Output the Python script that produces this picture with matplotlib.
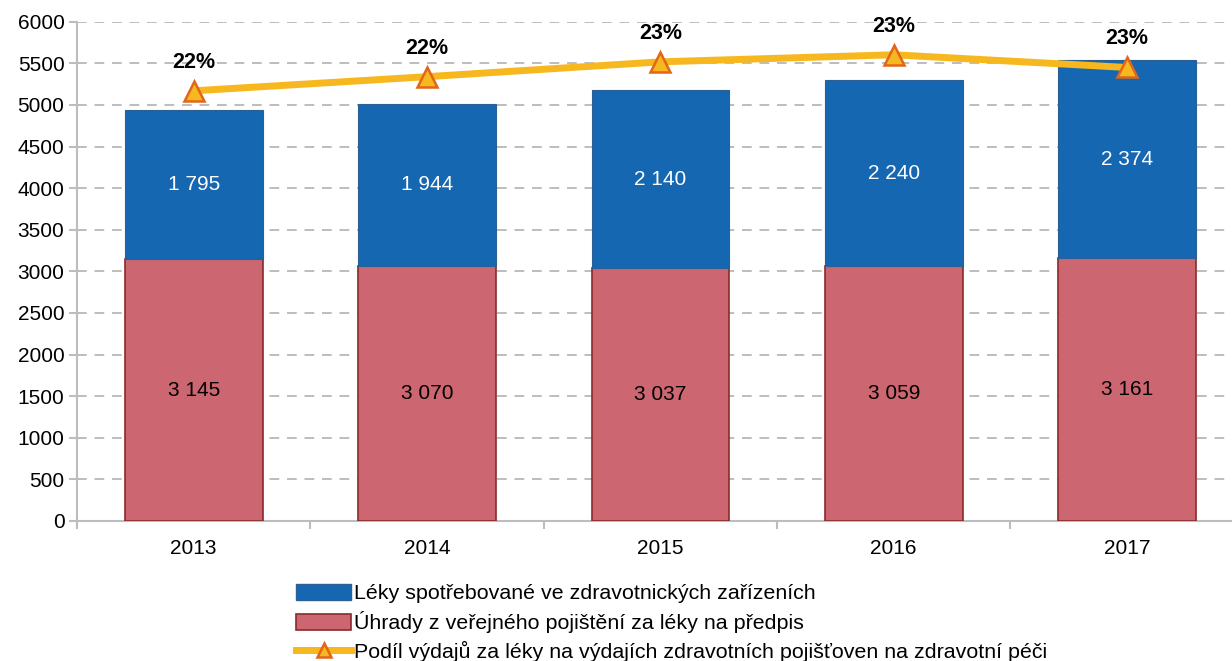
import numpy as np
import matplotlib.pyplot as plt
from matplotlib.patches import Patch
from matplotlib.lines import Line2D

plt.rcParams['font.family'] = ['Liberation Sans', 'DejaVu Sans']

# data
years = ['2013', '2014', '2015', '2016', '2017']
leky_predpis = [3145, 3070, 3037, 3059, 3161]       # red, bottom
leky_zarizeni = [1795, 1944, 2140, 2240, 2374]      # blue, top
podil_pct = [22.2, 22.4, 22.61, 22.71, 22.53]       # share, %

lbl_blue = 'Léky spotřebované ve zdravotnických zařízeních'
lbl_red = 'Úhrady z veřejného pojištění za léky na předpis'
lbl_line = 'Podíl výdajů za léky na výdajích zdravotních pojišťoven na zdravotní péči'

blue = '#1467B0'
red = '#CC6670'
red_edge = '#8A2A2A'
yellow = '#F6B81E'
orange = '#E2661A'
grey = '#BDBDBD'

fig = plt.figure(figsize=(12.32, 6.61), dpi=100)
ax = fig.add_axes([0.0625, 0.212, 0.947, 0.755])

x = np.arange(len(years))
w = 0.59
ax.bar(x, leky_predpis, w, color=red, edgecolor=red_edge, linewidth=1.2, zorder=3)
ax.bar(x, leky_zarizeni, w, bottom=leky_predpis, color=blue, edgecolor='#2C5F93',
       linewidth=0.8, zorder=3)

for xi, r, b in zip(x, leky_predpis, leky_zarizeni):
    ax.text(xi, r / 2, f'{r:,}'.replace(',', ' '), ha='center', va='center',
            fontsize=15, color='black', zorder=5)
    ax.text(xi, r + b / 2, f'{b:,}'.replace(',', ' '), ha='center', va='center',
            fontsize=15, color='white', zorder=5)

ax.set_xlim(-0.5, 4.5)
ax.set_ylim(0, 6000)
ax.set_yticks(np.arange(0, 6001, 500))
ax.set_xticks(x)
ax.set_xticklabels(years)
ax.set_xticks(np.arange(-0.5, 4.6, 1), minor=True)
ax.tick_params(axis='x', which='major', length=0, pad=13, labelsize=15)
ax.tick_params(axis='x', which='minor', length=6, color=grey, width=1.5)
ax.tick_params(axis='y', length=6, color=grey, width=1.5, labelsize=15, pad=3)
ax.yaxis.grid(True, linestyle=(0, (5, 4)), color=grey, linewidth=1.4, zorder=0)
ax.set_axisbelow(True)
for s in ['top', 'right']:
    ax.spines[s].set_visible(False)
for s in ['left', 'bottom']:
    ax.spines[s].set_color(grey)
    ax.spines[s].set_linewidth(1.5)

# share line on hidden secondary axis
ax2 = ax.twinx()
ax2.set_ylim(16.118, 23.176)
ax2.plot(x, podil_pct, color=yellow, linewidth=5, marker='^', markersize=14,
         markerfacecolor=yellow, markeredgecolor=orange, markeredgewidth=1.8, zorder=6)
for xi, p in zip(x, podil_pct):
    ax2.annotate(f'{p:.0f}%', (xi, p), xytext=(0, 13), textcoords='offset points',
                 ha='center', va='bottom', fontsize=15.5, fontweight='bold')
ax2.axis('off')

handles = [
    Patch(facecolor=blue, edgecolor='#2C5F93', label=lbl_blue),
    Patch(facecolor=red, edgecolor=red_edge, linewidth=1.2, label=lbl_red),
    Line2D([], [], color=yellow, linewidth=5, marker='^', markersize=10,
           markerfacecolor=yellow, markeredgecolor=orange, markeredgewidth=1.8, label=lbl_line),
]
fig.legend(handles=handles, loc='lower left', bbox_to_anchor=(0.228, -0.024), frameon=False,
           fontsize=15.4, handlelength=2.6, handleheight=0.8, handletextpad=0.1, labelspacing=0.36,
           borderpad=0.2)

fig.savefig('out.png', dpi=100)
